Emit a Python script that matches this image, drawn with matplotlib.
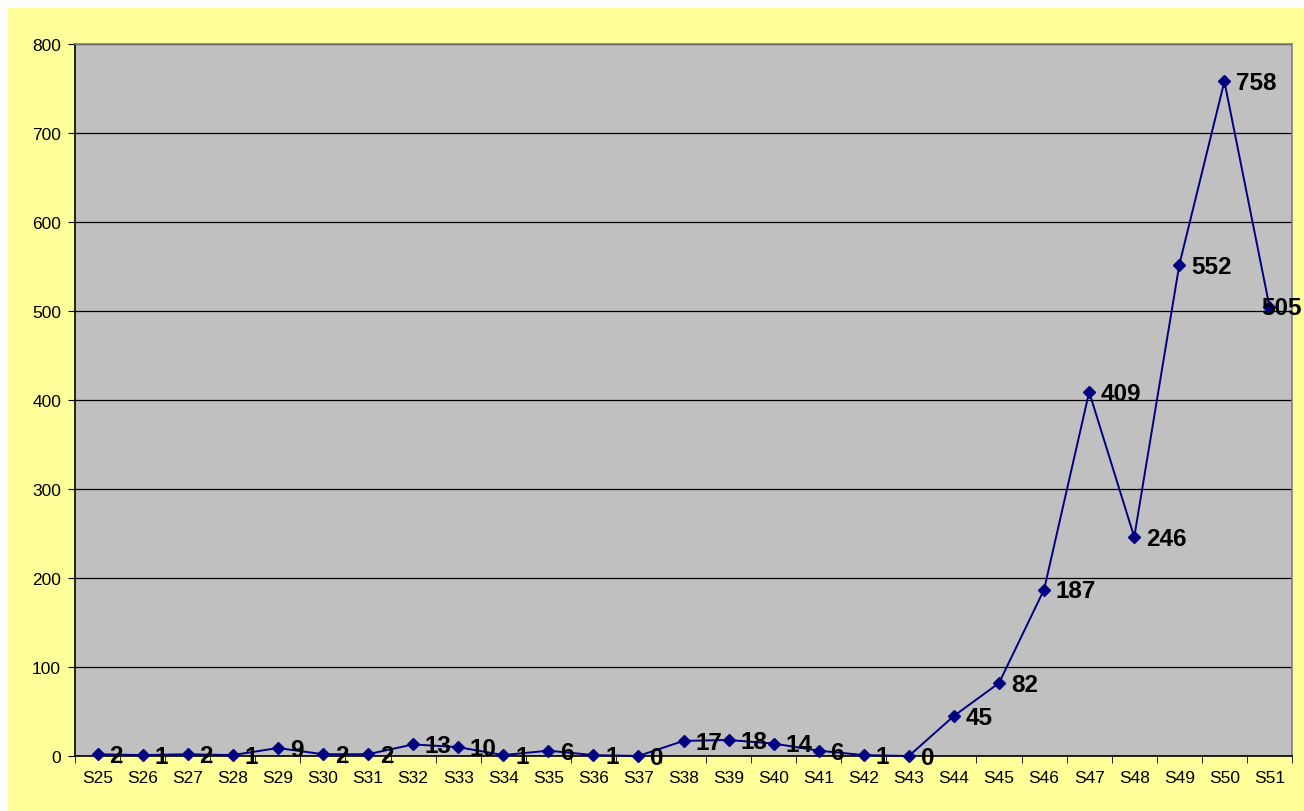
import numpy as np
import matplotlib
matplotlib.use('Agg')
import matplotlib.pyplot as plt
from matplotlib.patches import Rectangle

# data
weeks = ['S25', 'S26', 'S27', 'S28', 'S29', 'S30', 'S31', 'S32', 'S33', 'S34',
         'S35', 'S36', 'S37', 'S38', 'S39', 'S40', 'S41', 'S42', 'S43', 'S44',
         'S45', 'S46', 'S47', 'S48', 'S49', 'S50', 'S51']
cases = [2, 1, 2, 1, 9, 2, 2, 13, 10, 1, 6, 1, 0, 17, 18, 14, 6, 1, 0, 45,
         82, 187, 409, 246, 552, 758, 505]
y_ticks = [0, 100, 200, 300, 400, 500, 600, 700, 800]

plt.rcParams['font.family'] = ['Liberation Sans', 'DejaVu Sans']

W, H = 1304, 812
fig = plt.figure(figsize=(W / 100, H / 100), dpi=100, facecolor='white')

# yellow chart area with white margin top/left
fig.patches.append(Rectangle((8 / W, 0), 1 - 8 / W, 1 - 9 / H, transform=fig.transFigure,
                             facecolor='#FFFF99', edgecolor='none', zorder=-10))

ax = fig.add_axes([75 / W, 55 / H, (1292 - 75) / W, (757 - 45) / H])
ax.set_facecolor('#C0C0C0')

x = np.arange(len(weeks))
ax.plot(x, cases, color='#000080', lw=1.4, marker='D', markersize=6,
        markerfacecolor='#000080', markeredgecolor='#000080', zorder=3, clip_on=False)

# data labels to the right of points
for i, v in enumerate(cases):
    if i == len(cases) - 1:
        ax.annotate(str(v), (i, v), xytext=(9, -1), textcoords='offset points',
                    ha='center', va='center', fontsize=17.5, fontweight='bold', zorder=4,
                    annotation_clip=False)
    else:
        ax.annotate(str(v), (i, v), xytext=(8.5, -1), textcoords='offset points',
                    ha='left', va='center', fontsize=17.5, fontweight='bold', zorder=4,
                    annotation_clip=False)

ax.set_xlim(-0.5, len(weeks) - 0.5)
ax.set_ylim(0, 800)
ax.set_yticks(y_ticks)
ax.set_yticklabels([str(t) for t in y_ticks], fontsize=12.5)
ax.yaxis.grid(True, color='black', lw=0.9)
ax.set_axisbelow(True)

ax.set_xticks(x)
ax.set_xticklabels(weeks, fontsize=12.5)
ax.set_xticks(np.arange(len(weeks) + 1) - 0.5, minor=True)
ax.tick_params(axis='x', which='major', length=0, pad=10)
ax.tick_params(axis='x', which='minor', length=5, color='black', direction='out')
ax.tick_params(axis='y', length=5, color='black', direction='out', pad=5)

ax.spines['left'].set_color('black')
ax.spines['bottom'].set_color('black')
ax.spines['top'].set_color('#808080')
ax.spines['right'].set_color('#808080')
for s in ax.spines.values():
    s.set_linewidth(1.2)

fig.savefig('out.png', dpi=100, facecolor=fig.get_facecolor())
